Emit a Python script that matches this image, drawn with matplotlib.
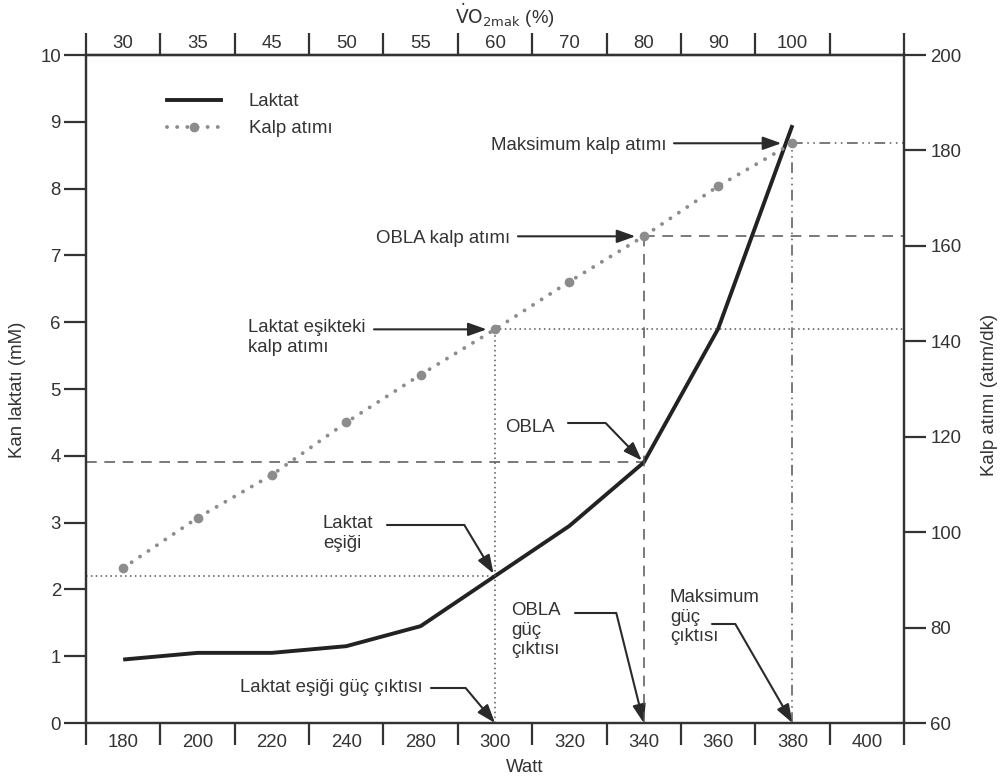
import numpy as np
import matplotlib
matplotlib.use('Agg')
import matplotlib.pyplot as plt
from matplotlib.lines import Line2D

# ---------------- data ----------------
watt_labels = ['180', '200', '220', '240', '280', '300', '320', '340', '360', '380', '400']
vo2_labels = ['30', '35', '45', '50', '55', '60', '70', '80', '90', '100']
lactate = [0.95, 1.05, 1.05, 1.15, 1.45, 2.2, 2.95, 3.9, 5.9, 8.95]          # mM
heart_rate = [92.5, 103, 112, 123, 133, 142.5, 152.5, 162, 172.5, 181.5]   # atım/dk
lt_idx = 5     # laktat eşiği  (300 W)
obla_idx = 7   # OBLA          (340 W)
max_idx = 9    # maksimum      (380 W)

# ---------------- style ----------------
plt.rcParams['font.family'] = ['Liberation Sans', 'DejaVu Sans']
TXT = '#333333'
SP = '#333333'
LAC_C = '#222222'
HR_C = '#8c8c8c'
REF_C = '#555555'
ARC = '#2a2a2a'
FS = 13.4

W, H = 1003, 780
L, R, T, B = 86, 904, 55, 723

fig = plt.figure(figsize=(W / 100, H / 100), dpi=100)
ax = fig.add_axes([L / W, 1 - B / H, (R - L) / W, (B - T) / H])
ax2 = ax.twinx()


def P(px, py):
    """reference pixel -> axes fraction (layout helper for text)"""
    return ((px - L) / (R - L), (B - py) / (B - T))


n = len(watt_labels)
x = np.arange(len(lactate))
ax.set_xlim(-0.5, n - 0.5)
ax.set_ylim(0, 10)
ax2.set_ylim(60, 200)

for a in (ax, ax2):
    for s in a.spines.values():
        s.set_color(SP)
        s.set_linewidth(1.6)

# bottom axis: ticks at cell boundaries, labels in cell centres
bounds = np.arange(-0.5, n, 1.0)
ax.set_xticks(bounds)
ax.set_xticklabels([])
ax.set_xticks(np.arange(n), minor=True)
ax.set_xticklabels(watt_labels, minor=True)
ax.tick_params(axis='x', which='major', direction='out', length=16, width=1.6, color=SP)
ax.tick_params(axis='x', which='minor', length=0, pad=8, labelsize=FS, labelcolor=TXT)

# top axis (VO2max %)
sec = ax.secondary_xaxis('top')
sec.set_xticks(bounds)
sec.set_xticklabels([])
sec.set_xticks(np.arange(len(vo2_labels)), minor=True)
sec.set_xticklabels(vo2_labels, minor=True)
sec.tick_params(axis='x', which='major', direction='out', length=16, width=1.6, color=SP)
sec.tick_params(axis='x', which='minor', length=0, pad=2, labelsize=FS, labelcolor=TXT)
sec.spines['top'].set_color(SP)
sec.spines['top'].set_linewidth(1.6)

# y axes
ax.set_yticks(np.arange(0, 11, 1))
ax.tick_params(axis='y', direction='out', length=16, width=1.6, color=SP, pad=2,
               labelsize=FS, labelcolor=TXT)
ax2.set_yticks(np.arange(60, 201, 20))
ax2.tick_params(axis='y', direction='out', length=16, width=1.6, color=SP, pad=3,
                labelsize=FS, labelcolor=TXT)

# ---------------- reference lines ----------------
dash = (0, (7, 5))
dot = (0, (1, 2.2))
ddot = (0, (7, 3, 1, 3, 1, 3))
# lactate threshold
ax.hlines(lactate[lt_idx], -0.5, lt_idx, colors=REF_C, lw=1.1, linestyles=dot)
ax2.vlines(lt_idx, 60, heart_rate[lt_idx], colors=REF_C, lw=1.1, linestyles=dot)
ax2.hlines(heart_rate[lt_idx], lt_idx, n - 0.5, colors=REF_C, lw=1.1, linestyles=dot)
# OBLA
ax.hlines(lactate[obla_idx], -0.5, obla_idx, colors=REF_C, lw=1.1, linestyles=dash)
ax2.vlines(obla_idx, 60, heart_rate[obla_idx], colors=REF_C, lw=1.1, linestyles=dash)
ax2.hlines(heart_rate[obla_idx], obla_idx, n - 0.5, colors=REF_C, lw=1.1, linestyles=dash)
# maximum
ax2.vlines(max_idx, 60, heart_rate[max_idx], colors=REF_C, lw=1.1, linestyles=ddot)
ax2.hlines(heart_rate[max_idx], max_idx, n - 0.5, colors=REF_C, lw=1.1, linestyles=ddot)

# ---------------- series ----------------
hr_ls = (0, (0.01, 2.6))
ax.plot(x, lactate, color=LAC_C, lw=2.8, solid_capstyle='butt', solid_joinstyle='round', zorder=5)
ax2.plot(x, heart_rate, color=HR_C, lw=2.8, ls=hr_ls, dash_capstyle='round',
         marker='o', ms=7, markeredgewidth=0, zorder=4)

# legend
h1 = Line2D([], [], color=LAC_C, lw=2.8)
h2 = Line2D([], [], color=HR_C, lw=2.8, ls=hr_ls, dash_capstyle='round',
            marker='o', ms=7, markeredgewidth=0)
ax.legend([h1, h2], ['Laktat', 'Kalp atımı'], loc='upper left',
          bbox_to_anchor=P(167, 93), frameon=False, fontsize=FS, labelcolor=TXT,
          handlelength=2.9, handletextpad=1.5, labelspacing=0.55,
          borderpad=0, borderaxespad=0)

# ---------------- annotations ----------------
def arrow(conn='arc3', shrinkB=0):
    return dict(arrowstyle='-|>,head_length=0.7,head_width=0.25', color=ARC, lw=1.5,
                mutation_scale=16, shrinkA=0, shrinkB=shrinkB, connectionstyle=conn)

tkw = dict(fontsize=FS, color=TXT, linespacing=1.2)
blend2 = ('axes fraction', 'data')

# heart-rate arrows (horizontal)
ax2.text(*P(667, 145), 'Maksimum kalp atımı', ha='right', va='center',
         transform=ax2.transAxes, **tkw)
ax2.annotate('', xy=(max_idx, heart_rate[max_idx]), xycoords='data',
             xytext=(P(674, 0)[0], heart_rate[max_idx]), textcoords=blend2,
             arrowprops=arrow(shrinkB=8))

ax2.text(*P(510, 238), 'OBLA kalp atımı', ha='right', va='center',
         transform=ax2.transAxes, **tkw)
ax2.annotate('', xy=(obla_idx, heart_rate[obla_idx]), xycoords='data',
             xytext=(P(518, 0)[0], heart_rate[obla_idx]), textcoords=blend2,
             arrowprops=arrow(shrinkB=6))

ax2.text(*P(248, 319), 'Laktat eşikteki\nkalp atımı', ha='left', va='top',
         transform=ax2.transAxes, **tkw)
ax2.annotate('', xy=(lt_idx, heart_rate[lt_idx]), xycoords='data',
             xytext=(P(374, 0)[0], heart_rate[lt_idx]), textcoords=blend2,
             arrowprops=arrow(shrinkB=6))

# lactate curve arrows (bent)
ax.text(*P(505, 427), 'OBLA', ha='left', va='center', transform=ax.transAxes, **tkw)
ax.annotate('', xy=(obla_idx, lactate[obla_idx]), xycoords='data',
            xytext=P(568, 423), textcoords='axes fraction',
            arrowprops=arrow('angle,angleA=0,angleB=-46,rad=0', shrinkB=2))

ax.text(*P(323, 515), 'Laktat\neşiği', ha='left', va='top', transform=ax.transAxes, **tkw)
ax.annotate('', xy=(lt_idx, lactate[lt_idx]), xycoords='data',
            xytext=P(387, 525), textcoords='axes fraction',
            arrowprops=arrow('angle,angleA=0,angleB=-59,rad=0', shrinkB=2))

# power output arrows (to x axis)
ax.text(*P(511, 602), 'OBLA\ngüç\nçıktısı', ha='left', va='top', transform=ax.transAxes, **tkw)
ax.annotate('', xy=(obla_idx, 0), xycoords='data',
            xytext=P(575, 613), textcoords='axes fraction',
            arrowprops=arrow('angle,angleA=0,angleB=-76,rad=0'))

ax.text(*P(240, 688), 'Laktat eşiği güç çıktısı', ha='left', va='center',
        transform=ax.transAxes, **tkw)
ax.annotate('', xy=(lt_idx, 0), xycoords='data',
            xytext=P(431, 688), textcoords='axes fraction',
            arrowprops=arrow('angle,angleA=0,angleB=-50,rad=0'))

ax.text(*P(670, 589), 'Maksimum\ngüç\nçıktısı', ha='left', va='top', transform=ax.transAxes, **tkw)
ax.annotate('', xy=(max_idx, 0), xycoords='data',
            xytext=P(712, 624), textcoords='axes fraction',
            arrowprops=arrow('angle,angleA=0,angleB=-60,rad=0'))

# ---------------- axis titles ----------------
fig.text(18 / W, 1 - 390 / H, 'Kan laktatı (mM)', rotation=90, ha='center', va='center',
         fontsize=FS, color=TXT)
fig.text(990 / W, 1 - 395 / H, 'Kalp atımı (atım/dk)', rotation=90, ha='center', va='center',
         fontsize=FS, color=TXT)
fig.text(525 / W, 1 - 768 / H, 'Watt', ha='center', va='center', fontsize=FS, color=TXT)
fig.text(505 / W, 1 - 16 / H, r'$\dot{\mathrm{V}}\mathrm{O}_{2\mathrm{mak}}$ (%)', ha='center',
         va='center', fontsize=FS, color=TXT)

fig.savefig('out.png', dpi=100, facecolor='white')
